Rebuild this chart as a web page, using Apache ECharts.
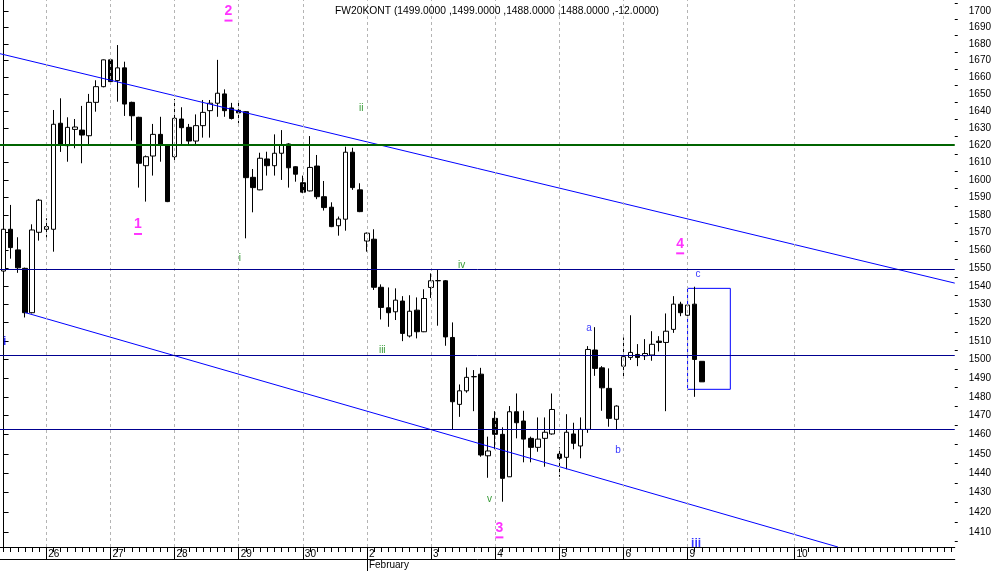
<!DOCTYPE html>
<html><head><meta charset="utf-8">
<script src="https://cdn.jsdelivr.net/npm/echarts@6/dist/echarts.min.js"></script>
<style>html,body{margin:0;padding:0;background:#fff}#c{width:994px;height:571px}</style>
</head><body><div id="c"></div>
<script>
// ---- sessions (day label, number of bar slots on the axis) ----
const sessions = [['23',6],['26',9],['27',9],['28',9],['29',9],['30',9],['2',9],['3',9],['4',9],['5',9],['6',9],['9',15],['10',23]];
const monthLabel = ['2', 'February'];
// ---- OHLC values (one per bar) ----
const openP  = [1548.4,1571.8,1560.2,1549.9,1525.4,1570.1,1571.8,1571.8,1632.8,1619.7,1629.2,1628.8,1625.5,1645.1,1654.4,1670.4,1658.0,1665.6,1645.1,1636.3,1608.1,1613.7,1626.3,1619.7,1613.3,1635.3,1630.4,1622.4,1631.4,1640.2,1644.6,1650.1,1641.8,1640.4,1639.6,1601.4,1594.2,1612.0,1608.1,1615.3,1620.7,1607.5,1598.3,1593.6,1607.9,1590.3,1584.3,1573.8,1577.5,1615.9,1594.2,1565.2,1566.2,1539.4,1528.1,1525.9,1531.8,1512.7,1526.8,1515.0,1539.3,1543.0,1543.0,1511.9,1476.0,1483.2,1490.7,1492.1,1449.0,1468.6,1460.2,1438.1,1472.1,1467.2,1458.1,1453.4,1458.1,1460.4,1449.9,1448.2,1460.4,1454.1,1462.8,1505.1,1495.5,1484.5,1468.1,1496.4,1501.1,1502.7,1502.0,1502.4,1509.9,1509.2,1516.3,1530.1,1524.0,1530.1,1499.0];
const highP  = [1589.0,1585.6,1567.3,1550.3,1574.6,1589.0,1578.0,1640.6,1647.5,1636.3,1635.3,1643.0,1650.1,1658.2,1670.6,1671.0,1679.3,1669.3,1645.5,1636.6,1614.0,1632.4,1636.6,1620.3,1647.1,1642.2,1632.4,1638.0,1646.5,1646.5,1670.4,1652.8,1644.8,1645.3,1640.0,1606.2,1615.6,1616.2,1626.3,1628.8,1621.1,1607.8,1602.4,1625.3,1614.3,1599.3,1587.1,1579.0,1619.1,1618.5,1598.0,1570.0,1571.8,1541.0,1539.3,1538.8,1534.5,1535.0,1533.8,1538.3,1547.1,1549.3,1543.4,1520.1,1486.6,1495.7,1494.3,1495.5,1459.0,1472.4,1463.9,1475.1,1481.8,1472.6,1459.0,1469.1,1469.1,1481.8,1453.4,1470.8,1466.3,1469.1,1507.2,1517.5,1496.4,1495.2,1475.5,1511.9,1524.0,1508.3,1511.0,1515.3,1512.6,1525.0,1534.5,1531.4,1529.8,1539.7,1499.0];
const lowP   = [1546.6,1555.3,1547.4,1522.8,1525.0,1565.4,1567.2,1559.2,1616.1,1610.4,1618.2,1609.5,1620.1,1639.6,1654.0,1655.4,1645.5,1637.1,1622.6,1595.5,1587.5,1602.4,1610.4,1587.2,1610.4,1620.1,1619.7,1619.7,1624.4,1624.4,1636.6,1636.6,1635.0,1632.8,1566.7,1581.4,1594.0,1602.4,1602.4,1599.9,1595.5,1598.9,1592.3,1593.3,1588.9,1582.4,1573.0,1568.2,1571.0,1594.2,1581.5,1559.2,1537.9,1521.7,1517.7,1521.4,1509.9,1511.9,1511.4,1514.8,1533.5,1518.3,1507.4,1463.0,1469.4,1482.2,1472.4,1448.5,1437.6,1452.4,1425.3,1438.0,1458.1,1445.6,1445.6,1451.1,1443.3,1460.0,1438.1,1442.0,1452.4,1447.7,1461.0,1491.2,1472.6,1464.2,1462.8,1490.7,1499.7,1496.4,1499.7,1499.3,1504.3,1472.4,1514.4,1523.5,1523.5,1480.0,1488.0];
const closeP = [1571.8,1561.5,1550.2,1525.4,1571.4,1588.3,1573.3,1632.2,1620.1,1630.4,1630.6,1625.9,1645.1,1654.4,1670.4,1657.4,1665.6,1644.1,1637.2,1609.5,1613.3,1626.3,1620.5,1587.5,1635.7,1630.2,1622.4,1631.4,1639.2,1644.6,1650.5,1640.2,1635.6,1638.9,1601.2,1595.5,1612.4,1608.1,1615.3,1620.1,1606.9,1603.2,1592.9,1607.1,1590.3,1584.1,1573.3,1577.6,1615.9,1595.5,1581.8,1569.6,1539.4,1528.3,1525.4,1532.3,1514.1,1526.2,1515.0,1533.2,1543.0,1543.1,1512.2,1477.4,1483.2,1490.4,1490.8,1449.4,1451.5,1460.2,1437.3,1472.1,1466.3,1457.7,1453.4,1457.7,1461.3,1473.3,1447.7,1461.3,1455.5,1462.8,1505.4,1495.2,1484.8,1468.6,1475.1,1501.5,1503.8,1501.1,1503.2,1508.2,1509.2,1515.3,1530.1,1525.4,1529.6,1500.0,1488.0];
// ---- price axis ----
const yTicks = [1410,1420,1430,1440,1450,1460,1470,1480,1490,1500,1510,1520,1530,1540,1550,1560,1570,1580,1590,1600,1610,1620,1630,1640,1650,1660,1670,1680,1690,1700];
const yMinorTicks = [1405,1415,1425,1435,1445,1455,1465,1475,1485,1495,1505,1515,1525,1535,1545,1555,1565,1575,1585,1595,1605,1615,1625,1635,1645,1655,1665,1675,1685,1695,1705];
const yRange = [1402.3, 1706.7];
// ---- drawn studies (bar index, price) ----
const greenLevel = 1620;
const blueLevels = [1549.6, 1502.1, 1462.8];
const upperChannel = [[-0.5, 1674.1], [133.5, 1541.7]];
const lowerChannel = [[3, 1525.5], [117.1, 1402.3]];
const boxCorners = [[96, 1538.8], [102, 1484.0]];
const waveLabels = [['1', 18.87, 1573.1], ['2', 31.57, 1698.4], ['3', 69.59, 1410.7], ['4', 94.96, 1562.2]];
const subLabels = [['i', 33.17, 1555.5], ['ii', 50.21, 1641.6], ['iii', 53.15, 1504.9], ['iv', 64.3, 1551.6], ['v', 68.21, 1426.6]];
const abcLabels = [['a', 82.16, 1516.8], ['b', 86.24, 1452.0], ['c', 97.45, 1546.6]];
const bigBlueLabels = [['i', 0.15, 1509.6], ['iii', 97.2, 1403.9]];
const titleText = 'FW20KONT (1499.0000 ,1499.0000 ,1488.0000 ,1488.0000 ,-12.0000)';

const FONT = 'Liberation Sans';
const L = Math.log;
const categories = [];
const dayStarts = [];
sessions.forEach(([d, n], si) => {
  if (si > 0) dayStarts.push(categories.length);
  for (let k = 0; k < n; k++) categories.push(d + '#' + k);
});
const dayStartSet = new Set(dayStarts);
const febIdx = categories.indexOf(monthLabel[0] + '#0');
const nCat = categories.length;

const candleData = openP.map((o, i) => [L(o), L(closeP[i]), L(lowP[i]), L(highP[i])]);
const pt = (x, p) => [x, L(p)];
const labelItems = arr => arr.map(([n, x, p]) => ({ name: n, value: pt(x, p) }));

const chart = echarts.init(document.getElementById('c'), null, { renderer: 'canvas' });
chart.setOption({
  animation: false,
  backgroundColor: '#fff',
  textStyle: { fontFamily: FONT },
  title: { text: titleText, left: 330, top: 1, textStyle: { fontSize: 10.3, fontWeight: 'normal', color: '#000', fontFamily: FONT } },
  grid: { left: -1, right: 39, top: 0, bottom: 24, containLabel: false },
  xAxis: [
    { type: 'category', data: categories, boundaryGap: true, position: 'bottom',
      axisLine: { show: true, lineStyle: { color: '#000', width: 1 } },
      axisTick: { show: true, interval: 0, length: 5, alignWithLabel: true, lineStyle: { color: '#000' } },
      axisLabel: { show: true, interval: (i) => dayStartSet.has(i), formatter: (v) => v.split('#')[0],
        align: 'left', margin: 2, padding: [0, 0, 0, 2], fontSize: 10, color: '#000', fontFamily: FONT, hideOverlap: false },
      splitLine: { show: false } },
    { type: 'category', data: categories, boundaryGap: true, position: 'bottom',
      axisLine: { show: false },
      axisTick: { show: true, interval: (i) => dayStartSet.has(i), length: 12, alignWithLabel: true, lineStyle: { color: '#000' } },
      axisLabel: { show: false }, splitLine: { show: false } },
    { type: 'category', data: categories, boundaryGap: true, position: 'bottom', offset: 12,
      axisLine: { show: true, lineStyle: { color: '#000', width: 1 } },
      axisTick: { show: true, interval: (i) => i === febIdx, length: 12, alignWithLabel: true, lineStyle: { color: '#000' } },
      axisLabel: { show: true, interval: (i) => i === febIdx, formatter: () => monthLabel[1],
        align: 'left', margin: 1, padding: [0, 0, 0, 2], fontSize: 10, color: '#000', fontFamily: FONT },
      splitLine: { show: false } },
    { type: 'value', min: -0.5, max: nCat - 0.5, show: false }
  ],
  yAxis: [
    { type: 'value', position: 'right', min: L(yRange[0]), max: L(yRange[1]),
      axisLine: { show: true, lineStyle: { color: '#000', width: 1 } },
      axisTick: { show: true, length: 5, customValues: yTicks.map(L), lineStyle: { color: '#000' } },
      axisLabel: { show: true, customValues: yTicks.map(L), formatter: (v) => String(Math.round(Math.exp(v))),
        margin: 14, fontSize: 10, color: '#000', fontFamily: FONT },
      splitLine: { show: false } },
    { type: 'value', position: 'right', min: L(yRange[0]), max: L(yRange[1]),
      axisLine: { show: false },
      axisTick: { show: true, length: 3, customValues: yMinorTicks.map(L), lineStyle: { color: '#000' } },
      axisLabel: { show: false }, splitLine: { show: false } }
  ],
  series: [
    { type: 'scatter', xAxisIndex: 3, yAxisIndex: 0, z: 1, symbolSize: 0, silent: true,
      data: [pt(-0.5, 1500)],
      markLine: { silent: true, symbol: ['none', 'none'], label: { show: false }, animation: false, precision: 12,
        lineStyle: { color: '#b4b4b4', type: [3, 3], width: 1 },
        data: dayStarts.map(i => ({ xAxis: i })) } },
    { type: 'candlestick', xAxisIndex: 0, yAxisIndex: 0, z: 2, barWidth: 5,
      data: candleData,
      itemStyle: { color: '#fff', color0: '#000', borderColor: '#000', borderColor0: '#000', borderColorDoji: '#000', borderWidth: 1 } },
    { type: 'scatter', xAxisIndex: 3, yAxisIndex: 0, z: 3, symbolSize: 0, silent: true,
      data: [pt(-0.5, 1500)],
      markLine: { silent: true, symbol: ['none', 'none'], label: { show: false }, animation: false, precision: 12,
        data: blueLevels.map(v => ({ yAxis: L(v), lineStyle: { color: '#000090', width: 1, type: 'solid' } }))
          .concat([{ yAxis: L(greenLevel), lineStyle: { color: '#006400', width: 2, type: 'solid' } }]) },
      markArea: { silent: true, precision: 12, itemStyle: { color: 'rgba(0,0,0,0)', borderColor: '#0000ff', borderWidth: 1 },
        data: [[{ coord: pt(boxCorners[0][0], boxCorners[0][1]) }, { coord: pt(boxCorners[1][0], boxCorners[1][1]) }]] } },
    { type: 'line', xAxisIndex: 3, yAxisIndex: 0, z: 4, showSymbol: false, silent: true,
      data: upperChannel.map(([x, p]) => pt(x, p)), lineStyle: { color: '#0000ff', width: 1 } },
    { type: 'line', xAxisIndex: 3, yAxisIndex: 0, z: 4, showSymbol: false, silent: true,
      data: lowerChannel.map(([x, p]) => pt(x, p)), lineStyle: { color: '#0000ff', width: 1 } },
    { type: 'scatter', xAxisIndex: 3, yAxisIndex: 0, z: 5, symbolSize: 1, silent: true,
      itemStyle: { color: 'rgba(0,0,0,0)' },
      data: labelItems(waveLabels),
      label: { show: true, position: 'inside', formatter: p => '{n|' + p.name + '}\n{u| }',
        rich: { n: { fontSize: 14, fontWeight: 'bold', color: '#ff00ff', lineHeight: 14, align: 'center', fontFamily: FONT },
                u: { width: 8, height: 2, backgroundColor: '#ff00ff', lineHeight: 5, fontSize: 2, align: 'center' } } } },
    { type: 'scatter', xAxisIndex: 3, yAxisIndex: 0, z: 5, symbolSize: 1, silent: true,
      itemStyle: { color: 'rgba(0,0,0,0)' },
      data: labelItems(subLabels),
      label: { show: true, position: 'inside', formatter: p => p.name, fontSize: 10, color: '#008000', fontFamily: FONT } },
    { type: 'scatter', xAxisIndex: 3, yAxisIndex: 0, z: 5, symbolSize: 1, silent: true,
      itemStyle: { color: 'rgba(0,0,0,0)' },
      data: labelItems(abcLabels),
      label: { show: true, position: 'inside', formatter: p => p.name, fontSize: 10, color: '#0000ff', fontFamily: FONT } },
    { type: 'scatter', xAxisIndex: 3, yAxisIndex: 0, z: 6, symbolSize: 1, silent: true,
      itemStyle: { color: 'rgba(0,0,0,0)' },
      data: labelItems(bigBlueLabels),
      labelLayout: { hideOverlap: false, moveOverlap: false },
      label: { show: true, position: 'inside', formatter: p => p.name, fontSize: 12, fontWeight: 'bold', color: '#0000ff', fontFamily: FONT } }
  ]
});
</script>
</body></html>
